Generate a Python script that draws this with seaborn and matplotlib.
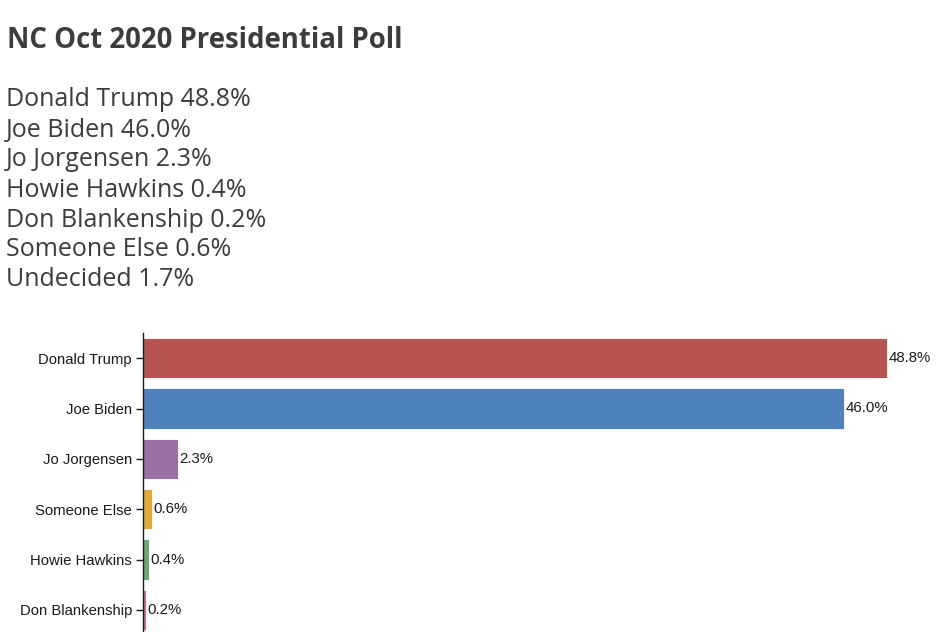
import matplotlib
matplotlib.use("Agg")
import matplotlib.pyplot as plt
import seaborn as sns
import pandas as pd

title = "NC Oct 2020 Presidential Poll"
list_names = ["Donald Trump", "Joe Biden", "Jo Jorgensen", "Howie Hawkins",
              "Don Blankenship", "Someone Else", "Undecided"]
list_values = [48.8, 46.0, 2.3, 0.4, 0.2, 0.6, 1.7]

bar_names = ["Donald Trump", "Joe Biden", "Jo Jorgensen", "Someone Else",
             "Howie Hawkins", "Don Blankenship"]
bar_values = [48.8, 46.0, 2.3, 0.6, 0.4, 0.2]
bar_colors = ["#B85450", "#4F81BD", "#9A6FA5", "#E2A93B", "#6BA774", "#C76D9A"]

sns.set_style("white")
plt.rcParams["font.family"] = ["Liberation Sans", "DejaVu Sans"]

W, H = 950, 632
fig = plt.figure(figsize=(W / 100, H / 100), dpi=100)

txt_color = "#3c3c3c"
fig.text(7 / W, 1 - 41 / H, title, fontsize=19.8, fontweight="bold",
         family=["Open Sans", "DejaVu Sans"], color=txt_color, va="center", ha="left")
for i, (n, v) in enumerate(zip(list_names, list_values)):
    fig.text(6 / W, 1 - (100 + 30 * i) / H, f"{n} {v:.1f}%", fontsize=18,
             family=["Open Sans", "DejaVu Sans"], color=txt_color, va="center", ha="left")

df = pd.DataFrame({"name": bar_names, "value": bar_values})
ax = fig.add_axes([143 / W, 1 - 635 / H, 762 / W, 302 / H])
sns.barplot(data=df, x="value", y="name", hue="name", palette=bar_colors,
            order=bar_names, hue_order=bar_names, legend=False, width=0.8,
            saturation=1, ax=ax, edgecolor="white", linewidth=0.6)
ax.set_xlim(0, 50)
ax.set_ylim(len(bar_names) - 0.5, -0.5)
for i, v in enumerate(bar_values):
    ax.text(v + 0.1, i, f"{v:.1f}%", va="center", ha="left", fontsize=10.8, color="#1a1a1a")
ax.set_xlabel("")
ax.set_ylabel("")
ax.set_xticks([])
for s in ["top", "right", "bottom"]:
    ax.spines[s].set_visible(False)
ax.spines["left"].set_color("#1a1a1a")
ax.spines["left"].set_linewidth(1.0)
ax.tick_params(axis="y", left=True, length=5, width=1, color="#1a1a1a",
               labelsize=10.7, labelcolor="#1a1a1a", pad=3)

fig.savefig("out.png", dpi=100)
